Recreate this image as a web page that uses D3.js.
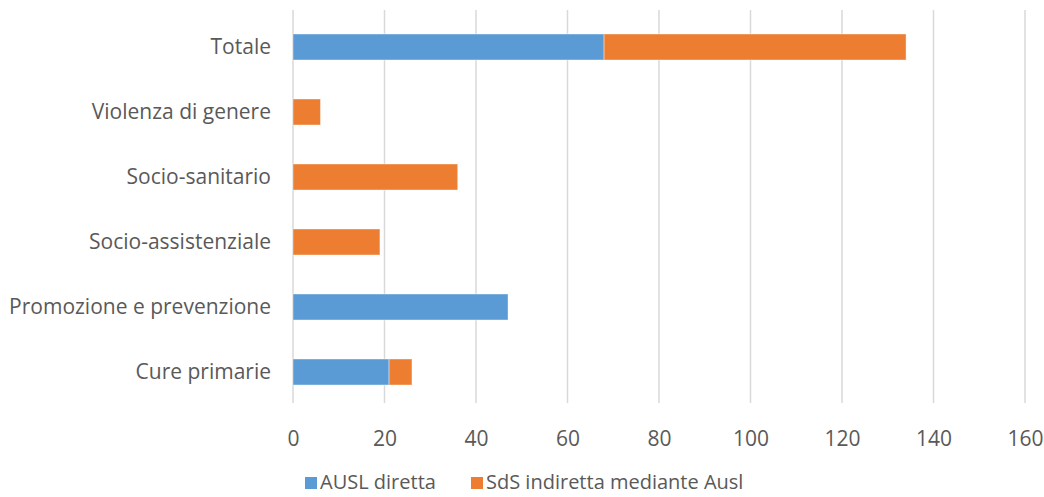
<!DOCTYPE html>
<html>
<head>
<meta charset="utf-8">
<style>
  body { margin: 0; background: #fff; }
  text { font-family: "Open Sans", "Noto Sans", sans-serif; fill: #595959; }
</style>
</head>
<body>
<svg width="1044" height="497"></svg>
<script src="https://d3js.org/d3.v7.min.js"></script>
<script>
var categories = ["Totale", "Violenza di genere", "Socio-sanitario", "Socio-assistenziale", "Promozione e prevenzione", "Cure primarie"];
var seriesNames = ["AUSL diretta", "SdS indiretta mediante Ausl"];
var auslDiretta = [68, 0, 0, 0, 47, 21];
var sdsIndiretta = [66, 6, 36, 19, 0, 5];
var xTicks = [0, 20, 40, 60, 80, 100, 120, 140, 160];
var colors = ["#5B9BD5", "#ED7D31"];

var svg = d3.select("svg"),
    margin = {top: 10, right: 19, bottom: 94, left: 293},
    width = 1044 - margin.left - margin.right,
    height = 497 - margin.top - margin.bottom,
    g = svg.append("g").attr("transform", "translate(" + margin.left + "," + margin.top + ")");

var x = d3.scaleLinear().domain([0, 160]).range([0, width]);
var y = d3.scaleBand().domain(categories).range([4.5, 394.5]).paddingInner(0.6).paddingOuter(0.3);

// gridlines
g.selectAll(".grid")
  .data(xTicks)
  .enter().append("line")
  .attr("x1", function(d) { return x(d); })
  .attr("x2", function(d) { return x(d); })
  .attr("y1", 0)
  .attr("y2", height)
  .attr("stroke", "#d9d9d9")
  .attr("stroke-width", 1.5);

var rows = categories.map(function(c, i) {
  return {cat: c, a: auslDiretta[i], b: sdsIndiretta[i]};
});
var stack = d3.stack().keys(["a", "b"])(rows);

g.selectAll(".series")
  .data(stack)
  .enter().append("g")
  .attr("fill", function(d, i) { return colors[i]; })
  .selectAll("rect")
  .data(function(d) { return d; })
  .enter().append("rect")
  .filter(function(d) { return d[1] > d[0]; })
  .attr("x", function(d) { return x(d[0]); })
  .attr("width", function(d) { return x(d[1]) - x(d[0]); })
  .attr("y", function(d) { return y(d.data.cat); })
  .attr("height", y.bandwidth())
  .attr("stroke", "#fff")
  .attr("stroke-opacity", 0.4)
  .attr("stroke-width", 1);

// y axis labels
var yAxis = g.append("g")
  .call(d3.axisLeft(y).tickSize(0).tickPadding(22));
yAxis.select(".domain").remove();
yAxis.selectAll("text")
  .style("font-size", "21px")
  .attr("fill", "#595959");

// x axis labels
var xAxis = g.append("g")
  .attr("transform", "translate(0," + height + ")")
  .call(d3.axisBottom(x).tickValues(xTicks).tickSize(0).tickPadding(28));
xAxis.select(".domain").remove();
xAxis.selectAll("text")
  .style("font-size", "21px")
  .attr("fill", "#595959");

// legend
var legendX = [305, 471];
var legend = svg.selectAll(".legend")
  .data(seriesNames)
  .enter().append("g")
  .attr("transform", function(d, i) { return "translate(" + legendX[i] + ",477)"; });
legend.append("rect")
  .attr("width", 12)
  .attr("height", 12)
  .attr("fill", function(d, i) { return colors[i]; });
legend.append("text")
  .attr("x", 15)
  .attr("y", 12)
  .style("font-size", "20px")
  .text(function(d) { return d; });
</script>
</body>
</html>
